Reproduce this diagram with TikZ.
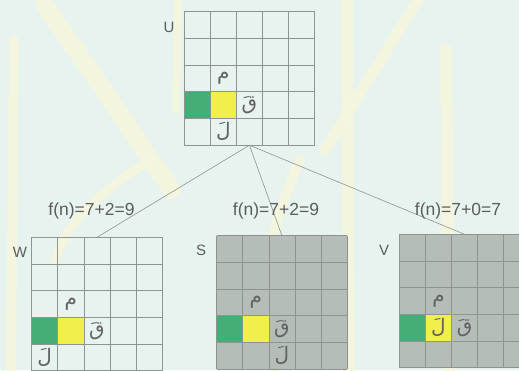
\documentclass[tikz,border=0pt]{standalone}
\usepackage{fontspec}
\setmainfont{Liberation Sans}
\newfontfamily\arabicfont[Script=Arabic]{DejaVu Sans}
\TeXXeTstate=1
\definecolor{bgc}{HTML}{E6F3EE}
\definecolor{wmark}{HTML}{F7F6DD}
\definecolor{cellgreen}{HTML}{45AE78}
\definecolor{cellyellow}{HTML}{F1F04A}
\definecolor{shade}{HTML}{B0B8B4}
\definecolor{gridc}{HTML}{8E9490}
\definecolor{txt}{HTML}{5C5C5C}
\definecolor{artxt}{HTML}{626262}
\newcommand\cw{26.1}
\newcommand\ch{26.7}
% #1 name, #2 left, #3 top, #4 extra board options
\newcommand\myboard[4]{%
  \node[board,#4] (#1) at (#2,#3) {};
  \fill[cellgreen] (#2,{#3+3*\ch}) rectangle ++(\cw,\ch);
  \fill[cellyellow] ({#2+\cw},{#3+3*\ch}) rectangle ++(\cw,\ch);
  \foreach \k in {0,...,5} {
    \draw[gridline] ({#2+\k*\cw},#3) -- ({#2+\k*\cw},{#3+5*\ch});
    \draw[gridline] (#2,{#3+\k*\ch}) -- ({#2+5*\cw},{#3+\k*\ch});
  }
}
\begin{document}
\begin{tikzpicture}[x=1pt,y=-1pt,
  board/.style={anchor=north west,inner sep=0pt,outer sep=0pt,
    minimum width=130.5pt,minimum height=133.5pt},
  shaded/.style={fill=shade,fill opacity=0.9},
  gridline/.style={draw=gridc,line width=0.7pt},
  conn/.style={draw=gridc,line width=0.6pt},
  wm/.style={draw=wmark,line cap=round,draw opacity=0.85},
  lbl/.style={text=txt,font=\fontsize{15}{18}\selectfont,inner sep=0pt},
  fn/.style={text=txt,font=\fontsize{17.5}{20}\selectfont,inner sep=0pt},
  ar/.style={text=artxt,font=\arabicfont\fontsize{20}{22}\selectfont,inner sep=0pt}]
\useasboundingbox (0,0) rectangle (519,370);
\clip (0,0) rectangle (519,370);
\fill[bgc] (0,0) rectangle (519,370);

% faint calligraphy watermark
\draw[wm,line width=18pt] (45,5) -- (172,190);
\draw[wm,line width=10pt] (14,40) -- (11,370);
\draw[wm,line width=9pt] (150,160) .. controls (105,190) and (70,215) .. (55,260);
\draw[wm,line width=12pt] (347,0) -- (349,370);
\draw[wm,line width=11pt] (418,0) -- (325,150);
\draw[wm,line width=12pt] (446,50) -- (449,370);
\draw[wm,line width=8pt] (178,0) -- (176,110);
\draw[wm,line width=10pt] (300,160) .. controls (270,230) and (250,300) .. (275,370);

% boards
\myboard{U}{184.2}{11.7}{}
\myboard{W}{31.7}{237.3}{}
\myboard{S}{216.7}{235.7}{shaded}
\myboard{V}{399.3}{234.3}{shaded}

% redraw colored cells over shading
\fill[cellgreen] (216.7,{235.7+3*\ch}) rectangle ++(\cw,\ch);
\fill[cellyellow] ({216.7+\cw},{235.7+3*\ch}) rectangle ++(\cw,\ch);
\fill[cellgreen] (399.3,{234.3+3*\ch}) rectangle ++(\cw,\ch);
\fill[cellyellow] ({399.3+\cw},{234.3+3*\ch}) rectangle ++(\cw,\ch);
\foreach \L/\T in {216.7/235.7,399.3/234.3}{
  \foreach \k in {0,...,5} {
    \draw[gridline] ({\L+\k*\cw},\T) -- ({\L+\k*\cw},{\T+5*\ch});
    \draw[gridline] (\L,{\T+\k*\ch}) -- ({\L+5*\cw},{\T+\k*\ch});
  }
}

% board labels
\node[lbl] (Ulbl) at (169,27) {U};
\node[lbl] (Wlbl) at (20,252) {W};
\node[lbl] (Slbl) at (201,250) {S};
\node[lbl] (Vlbl) at (384,250) {V};

% connectors
\draw[conn] (U.south) -- (W.north);
\draw[conn] (U.south) -- (S.north);
\draw[conn] (U.south) -- (V.north);

% f(n) labels
\node[fn] (Wf) at (91.5,210.5) {f(n)=7+2=9};
\node[fn] (Sf) at (276,210.5) {f(n)=7+2=9};
\node[fn] (Vf) at (458,210.5) {f(n)=7+0=7};

% Arabic letters: U
\node[ar] (Um) at ({184.2+1.5*\cw},{11.7+2.5*\ch}) {\beginR م\endR};
\node[ar] (Uq) at ({184.2+2.5*\cw},{11.7+3.5*\ch}) {\beginR قَ\endR};
\node[ar] (Ul) at ({184.2+1.5*\cw},{11.7+4.5*\ch}) {\beginR لَ\endR};
% W
\node[ar] (Wm) at ({31.7+1.5*\cw},{237.3+2.5*\ch}) {\beginR م\endR};
\node[ar] (Wq) at ({31.7+2.5*\cw},{237.3+3.5*\ch}) {\beginR قَ\endR};
\node[ar] (Wl) at ({31.7+0.5*\cw},{237.3+4.5*\ch}) {\beginR لَ\endR};
% S
\node[ar] (Sm) at ({216.7+1.5*\cw},{235.7+2.5*\ch}) {\beginR م\endR};
\node[ar] (Sq) at ({216.7+2.5*\cw},{235.7+3.5*\ch}) {\beginR قَ\endR};
\node[ar] (Sl) at ({216.7+2.5*\cw},{235.7+4.5*\ch}) {\beginR لَ\endR};
% V
\node[ar] (Vm) at ({399.3+1.5*\cw},{234.3+2.5*\ch}) {\beginR م\endR};
\node[ar] (Vl) at ({399.3+1.5*\cw},{234.3+3.5*\ch}) {\beginR لَ\endR};
\node[ar] (Vq) at ({399.3+2.5*\cw},{234.3+3.5*\ch}) {\beginR قَ\endR};
\end{tikzpicture}
\end{document}
